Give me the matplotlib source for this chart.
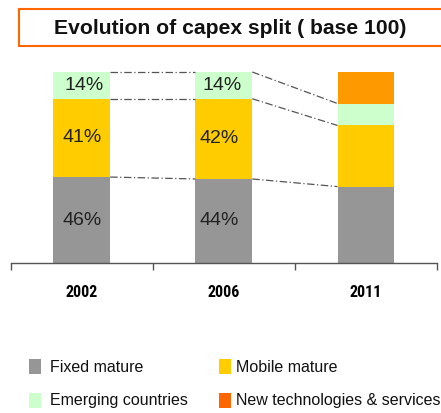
import matplotlib
matplotlib.use("Agg")
import matplotlib.pyplot as plt
from matplotlib.patches import Rectangle

plt.rcParams['font.family'] = ['Liberation Sans', 'DejaVu Sans']

# Data (share of capex, base 100)
years = ['2002', '2006', '2011']
fixed = [45, 44, 40]
mobile = [41, 42, 32]
emerging = [14, 14, 11.5]
new_tech = [0, 0, 16.5]

# Printed labels (as shown on the chart)
fixed_lbl = ['46%', '44%', '']
mobile_lbl = ['41%', '42%', '']
emerging_lbl = ['14%', '14%', '']

legend_names = ['Fixed mature', 'Mobile mature', 'Emerging countries', 'New technologies & services']

c_fixed = '#969696'
c_mobile = '#FFCC00'
c_emerg = '#CCFFCC'
c_new_bar = '#FF9900'
c_new_leg = '#FF6600'

W, H = 441, 413
fig = plt.figure(figsize=(W / 100, H / 100), dpi=100)

def fx(px):
    return px / W

def fy(py):
    return 1 - py / H

# Title box (runs off the right edge)
fig.patches.append(Rectangle((fx(18.7), fy(46)), 1.1, (46 - 9.3) / H,
                             transform=fig.transFigure, facecolor='white',
                             edgecolor='#FF6600', linewidth=1.5, clip_on=False))
fig.text(fx(230), fy(28), 'Evolution of capex split ( base 100)', ha='center', va='center',
         fontsize=15.2, fontweight='bold', color='#111111')

# Bars
ax = fig.add_axes([fx(10.7), fy(263), fx(437) - fx(10.7), (263 - 72) / H])
x = list(range(len(years)))
bw = 0.40
bottom2 = [a + b for a, b in zip(fixed, mobile)]
bottom3 = [a + b for a, b in zip(bottom2, emerging)]
ax.bar(x, fixed, bw, color=c_fixed)
ax.bar(x, mobile, bw, bottom=fixed, color=c_mobile)
ax.bar(x, emerging, bw, bottom=bottom2, color=c_emerg)
ax.bar(x, new_tech, bw, bottom=bottom3, color=c_new_bar)

# segment labels
for i in x:
    dx = -0.03 if i == 1 else 0
    if fixed_lbl[i]:
        ax.text(i + dx, fixed[i] / 2, fixed_lbl[i], ha='center', va='center', fontsize=14, color='#222222')
    if mobile_lbl[i]:
        ax.text(i + dx, fixed[i] + mobile[i] / 2, mobile_lbl[i], ha='center', va='center', fontsize=14, color='#222222')
    if emerging_lbl[i]:
        ax.text(i + dx + 0.02, bottom2[i] + emerging[i] / 2, emerging_lbl[i], ha='center', va='center', fontsize=14, color='#222222')

# dash-dot connectors between bars
for i in range(len(years) - 1):
    levels_from = [fixed[i], bottom2[i], bottom3[i]]
    levels_to = [fixed[i + 1], bottom2[i + 1], bottom3[i + 1]]
    for a, b in zip(levels_from, levels_to):
        ax.plot([i + bw / 2, i + 1 - bw / 2], [a, b], color='#555555', lw=0.9,
                linestyle=(0, (6, 2, 1, 2)), clip_on=False)

ax.set_xlim(-0.5, 2.5)
ax.set_ylim(0, 100)
ax.set_yticks([])
for s in ['top', 'right', 'left']:
    ax.spines[s].set_visible(False)
ax.spines['bottom'].set_color('#555555')
ax.spines['bottom'].set_linewidth(1.0)
ax.set_xticks([-0.5, 0.5, 1.5, 2.5])
ax.set_xticklabels([])
ax.tick_params(axis='x', which='major', direction='out', length=5, color='#555555', width=1.0)
ax.set_xticks(x, minor=True)
ax.set_xticklabels(years, minor=True, fontsize=11.5, fontweight='bold',
                   family=['Roboto Condensed', 'Liberation Sans'])
ax.tick_params(axis='x', which='minor', length=0, pad=16)

# Legend
leg_items = [
    (29.3, 359, c_fixed, 50, legend_names[0]),
    (219, 359, c_mobile, 236, legend_names[1]),
    (29.3, 393, c_emerg, 50, legend_names[2]),
    (219, 393, c_new_leg, 236.5, legend_names[3]),
]
for sx, sy, col, tx, name in leg_items:
    fig.patches.append(Rectangle((fx(sx), fy(sy + 15)), 11.7 / W, 15 / H,
                                 transform=fig.transFigure, facecolor=col, edgecolor='none'))
    fig.text(fx(tx), fy(sy + 8), name, ha='left', va='center', fontsize=11.5, color='#111111')

fig.savefig('out.png', dpi=100)
